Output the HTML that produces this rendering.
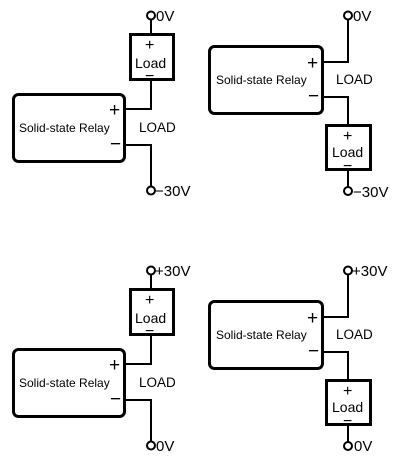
<!DOCTYPE html>
<html><head><style>
html,body{margin:0;padding:0;background:#fff;}
svg{display:block;font-family:"Liberation Sans",Arial,sans-serif;}
</style></head><body>
<svg width="400" height="465" viewBox="0 0 400 465" xmlns="http://www.w3.org/2000/svg">
<defs>
<g id="A">
  <rect x="13.5" y="94.5" width="111" height="67" rx="5" fill="none" stroke="#000" stroke-width="3"/>
  <text x="19" y="132" font-size="12">Solid-state Relay</text>
  <text x="109" y="116" font-size="19">+</text>
  <text x="110" y="150" font-size="19">−</text>
  <text x="139" y="132" font-size="13.5">LOAD</text>
  <rect x="130.5" y="34.5" width="43" height="45" fill="none" stroke="#000" stroke-width="3"/>
  <text x="145" y="50" font-size="16">+</text>
  <text x="135" y="68" font-size="14">Load</text>
  <text x="145" y="81" font-size="16">−</text>
  <path d="M151 19V33 M151 81V109H126 M126 145H151V187" fill="none" stroke="#000" stroke-width="2"/>
  <circle cx="151" cy="15.5" r="4" fill="#fff" stroke="#000" stroke-width="2"/>
  <circle cx="151" cy="190.5" r="4" fill="#fff" stroke="#000" stroke-width="2"/>
</g>
<g id="B">
  <rect x="209.5" y="46.5" width="113" height="67" rx="5" fill="none" stroke="#000" stroke-width="3"/>
  <text x="216" y="84" font-size="12">Solid-state Relay</text>
  <text x="307" y="69" font-size="19">+</text>
  <text x="308" y="102" font-size="19">−</text>
  <text x="336" y="84" font-size="13.5">LOAD</text>
  <rect x="326.5" y="125.5" width="44" height="44" fill="none" stroke="#000" stroke-width="3"/>
  <text x="343" y="141" font-size="16">+</text>
  <text x="332" y="157" font-size="14">Load</text>
  <text x="343" y="171" font-size="16">−</text>
  <path d="M348 19V62H323 M323 97H348V125 M348 171V187" fill="none" stroke="#000" stroke-width="2"/>
  <circle cx="348" cy="15.5" r="4" fill="#fff" stroke="#000" stroke-width="2"/>
  <circle cx="348" cy="191" r="4" fill="#fff" stroke="#000" stroke-width="2"/>
</g>
</defs>
<use href="#A"/>
<use href="#B"/>
<g transform="translate(0,255)"><use href="#A"/><use href="#B"/></g>
<g font-size="15">
  <text x="156" y="21">0V</text>
  <text x="155" y="196">−30V</text>
  <text x="353" y="21">0V</text>
  <text x="353" y="197">−30V</text>
  <text x="155" y="276">+30V</text>
  <text x="156" y="451">0V</text>
  <text x="352" y="276">+30V</text>
  <text x="354" y="451">0V</text>
</g>
</svg>
</body></html>
